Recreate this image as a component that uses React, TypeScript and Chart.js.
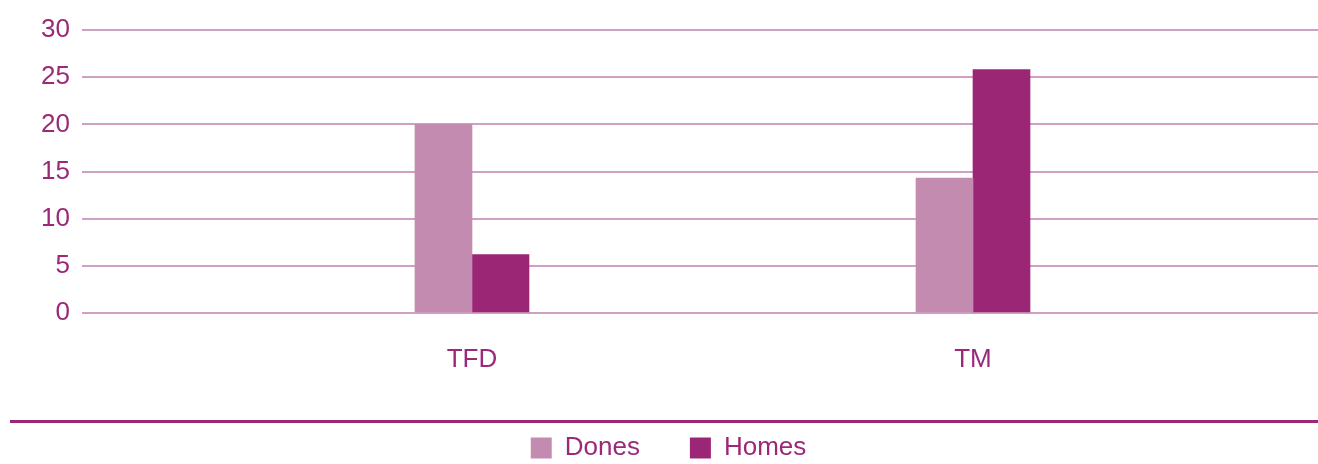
import React, { useEffect, useRef } from "react";
import { Chart, registerables } from "chart.js";

Chart.register(...registerables);

// ---- Data ----
const categories: string[] = ["TFD", "TM"];
const seriesNames: string[] = ["Dones", "Homes"];
const donesValues: number[] = [20, 14.3];
const homesValues: number[] = [6.2, 25.8];
const yTickValues: number[] = [0, 5, 10, 15, 20, 25, 30];

// ---- Styles ----
const FONT_FAMILY = "'Liberation Sans Narrow', 'Liberation Sans', Arial, sans-serif";
const FONT_SIZE = 26;
const TEXT_COLOR = "#9b2878";
const DONES_COLOR = "#c48bb0";
const HOMES_COLOR = "#9b2676";
const GRID_COLOR = "#d0a0c4";
const DIVIDER_COLOR = "#9b2676";

const dividerPlugin = {
  id: "divider",
  afterDraw(chart: any) {
    const { ctx } = chart;
    const y = chart.scales.x.bottom + 36.5;
    ctx.save();
    ctx.strokeStyle = DIVIDER_COLOR;
    ctx.lineWidth = 3;
    ctx.beginPath();
    ctx.moveTo(10, y);
    ctx.lineTo(chart.width, y);
    ctx.stroke();
    ctx.restore();
  },
};

export default function App() {
  const canvasRef = useRef<HTMLCanvasElement | null>(null);

  useEffect(() => {
    if (!canvasRef.current) return;
    const toPoints = (vals: number[]) => vals.map((v, i) => ({ x: i + 1, y: v }));
    const chart = new Chart(canvasRef.current, {
      type: "bar",
      data: {
        datasets: [
          {
            label: seriesNames[0],
            data: toPoints(donesValues) as any,
            backgroundColor: DONES_COLOR,
            borderWidth: 0,
            barThickness: 57,
          },
          {
            label: seriesNames[1],
            data: toPoints(homesValues) as any,
            backgroundColor: HOMES_COLOR,
            borderWidth: 0,
            barThickness: 57,
          },
        ],
      },
      options: {
        responsive: false,
        animation: false,
        layout: { padding: { top: 30, left: 19, right: 0, bottom: 0 } },
        scales: {
          x: {
            type: "linear",
            min: 0.2216,
            max: 2.6886,
            offset: false,
            grid: { display: false, drawTicks: false, offset: false },
            border: { display: false },
            afterBuildTicks: (axis: any) => {
              axis.ticks = categories.map((_, i) => ({ value: i + 1 }));
            },
            afterFit: (axis: any) => {
              axis.height = 72;
            },
            ticks: {
              autoSkip: false,
              maxRotation: 0,
              padding: 31,
              color: TEXT_COLOR,
              font: { family: FONT_FAMILY, size: FONT_SIZE },
              callback: (v: any) => categories[Math.round(Number(v)) - 1] ?? "",
            },
          },
          y: {
            min: 0,
            max: 30,
            afterBuildTicks: (axis: any) => {
              axis.ticks = yTickValues.map((v) => ({ value: v }));
            },
            afterFit: (axis: any) => {
              axis.width = 63;
            },
            grid: { color: GRID_COLOR, lineWidth: 2, drawTicks: false },
            border: { display: false },
            ticks: {
              padding: 12,
              color: TEXT_COLOR,
              font: { family: FONT_FAMILY, size: FONT_SIZE },
            },
          },
        },
        plugins: {
          legend: {
            position: "bottom",
            labels: {
              boxWidth: 21,
              boxHeight: 21,
              padding: 50,
              color: TEXT_COLOR,
              font: { family: FONT_FAMILY, size: FONT_SIZE },
            },
          },
          tooltip: { enabled: false },
        },
      },
      plugins: [dividerPlugin],
    });
    return () => chart.destroy();
  }, []);

  return (
    <div
      style={{
        position: "absolute",
        left: 0,
        top: 0,
        width: 1318,
        height: 464,
        overflow: "hidden",
        background: "#ffffff",
      }}
    >
      <canvas ref={canvasRef} width={1318} height={471} style={{ display: "block" }} />
    </div>
  );
}
